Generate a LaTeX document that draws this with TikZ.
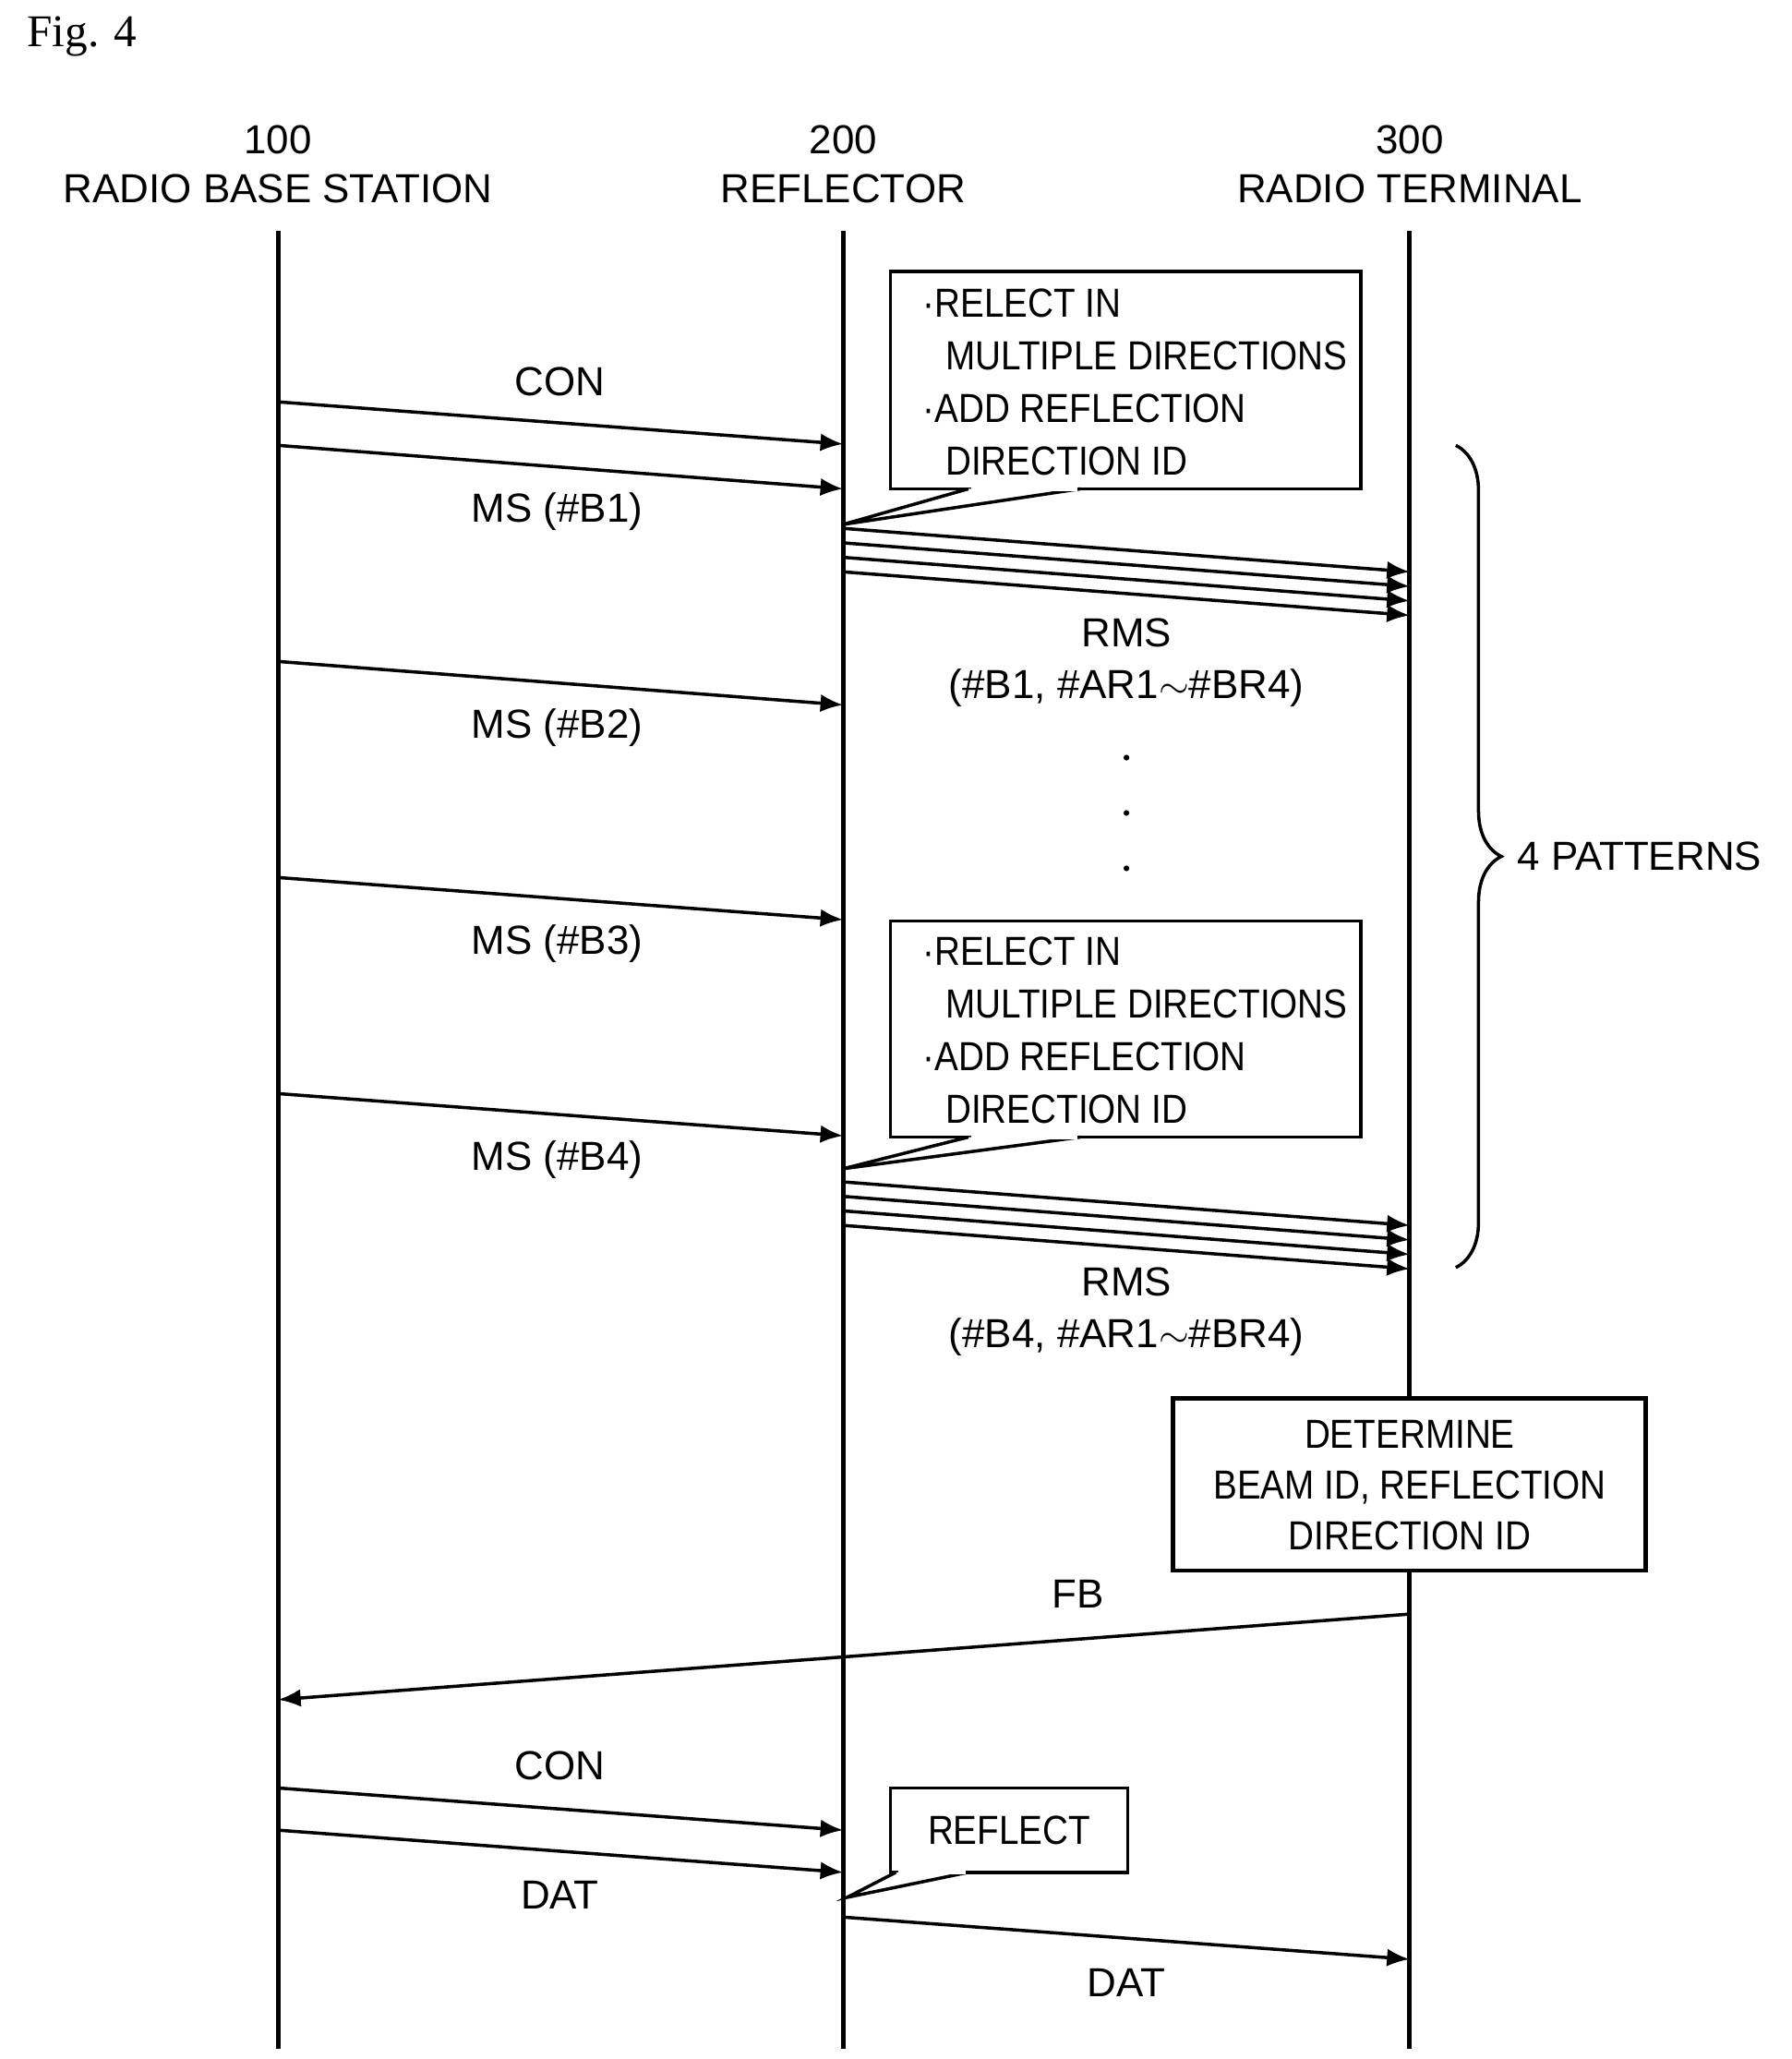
\documentclass[tikz,border=0pt]{standalone}
\usepackage{fontspec}
\setmainfont{Liberation Sans}
\setsansfont{Liberation Sans}
\newfontfamily\narrowfont[FakeStretch=0.88]{Liberation Sans}
\usetikzlibrary{decorations.pathreplacing,arrows.meta}
\begin{document}
\begin{tikzpicture}[x=0.01427cm,y=-0.01427cm,
    every node/.style={font=\fontsize{12.5}{15}\selectfont},
    msg/.style={-{Latex[length=7pt,width=5.5pt]},line width=1pt},
    life/.style={line width=1.4pt},
    notetext/.style={align=left,inner sep=0pt,font=\fontsize{12.5}{16.2}\narrowfont}]
\useasboundingbox (0,0) rectangle (1360,1562.7);
\node[font=\fontsize{14}{16}\selectfont,anchor=west] (fig) at (12,28) {\fontspec{Liberation Serif}Fig. 4};

% lifelines
\node (h1) at (211,106) {100};
\node (n1) at (211,143) {RADIO BASE STATION};
\node (h2) at (640,106) {200};
\node (n2) at (640,143) {REFLECTOR};
\node (h3) at (1070,106) {300};
\node (n3) at (1070,143) {RADIO TERMINAL};
\coordinate (a) at (211,175);
\coordinate (b) at (640,175);
\coordinate (c) at (1070,175);
\draw[life] (a) -- (a|-0,1555);
\draw[life] (b) -- (b|-0,1555);
\draw[life] (c) -- (c|-0,1555);

% callouts
\draw[line width=1pt] (676,206) rectangle (1033,371);
\node[notetext,anchor=west] (t1) at (700,290)
  {·RELECT IN\\\hspace*{7pt}MULTIPLE DIRECTIONS\\·ADD REFLECTION\\\hspace*{7pt}DIRECTION ID};
\draw[line width=1pt,fill=white] (735,371) -- (640,398) -- (820,371);
\draw[white,line width=1.4pt] (737,371) -- (818,371);

\draw[line width=1pt] (676,699) rectangle (1033,863);
\node[notetext,anchor=west] (t2) at (700,782)
  {·RELECT IN\\\hspace*{7pt}MULTIPLE DIRECTIONS\\·ADD REFLECTION\\\hspace*{7pt}DIRECTION ID};
\draw[line width=1pt,fill=white] (735,863) -- (640,887) -- (820,863);
\draw[white,line width=1.4pt] (737,863) -- (818,863);

\draw[line width=1pt] (676,1357) rectangle (856,1421);
\node[notetext] (t3) at (766,1389) {REFLECT};
\draw[line width=1pt,fill=white] (680,1421) -- (643,1440) -- (735,1421);
\draw[white,line width=1.4pt] (682,1421) -- (733,1421);

% first sweep
\draw[msg] (a|-0,305) -- (b|-0,337);
\node (l1) at (425,290) {CON};
\draw[msg] (a|-0,338) -- (b|-0,371);
\node (l2) at (423,388) {MS (\#B1)};
\foreach \s in {401,412,423,434}
  \draw[msg] (b|-0,\s) -- (c|-0,\s+33);
\node (l3) at (855,480) {RMS};
\node (l4) at (855,522) {(\#B1, \#AR1$\sim$\#BR4)};
\draw[msg] (a|-0,502) -- (b|-0,535);
\node (l5) at (423,552) {MS (\#B2)};
\foreach \d in {575,617,659}
  \fill (855,\d) circle (2.2);
\draw[msg] (a|-0,666) -- (b|-0,698);
\node (l6) at (423,716) {MS (\#B3)};
\draw[msg] (a|-0,830) -- (b|-0,862);
\node (l7) at (423,880) {MS (\#B4)};
\foreach \s in {897,908,919,930}
  \draw[msg] (b|-0,\s) -- (c|-0,\s+33);
\node (l8) at (855,973) {RMS};
\node (l9) at (855,1015) {(\#B4, \#AR1$\sim$\#BR4)};

\draw[line width=1pt,decorate,decoration={brace,amplitude=14}] (1105,338) -- (1105,962);
\node[anchor=west] (pat) at (1143,650) {4 PATTERNS};

% feedback
\draw[line width=1.4pt,fill=white] (890,1061) rectangle (1249,1192);
\node[notetext,align=center,font=\fontsize{12.5}{15.6}\narrowfont] (det) at (1070,1127)
  {DETERMINE\\BEAM ID, REFLECTION\\DIRECTION ID};
\draw[msg] (c|-0,1225) -- (a|-0,1290);
\node (l10) at (818,1210) {FB};

% data
\draw[msg] (a|-0,1357) -- (b|-0,1389);
\node (l11) at (425,1340) {CON};
\draw[msg] (a|-0,1389) -- (b|-0,1421);
\node (l12) at (425,1438) {DAT};
\draw[msg] (b|-0,1455) -- (c|-0,1487);
\node (l13) at (855,1505) {DAT};
\end{tikzpicture}
\end{document}
